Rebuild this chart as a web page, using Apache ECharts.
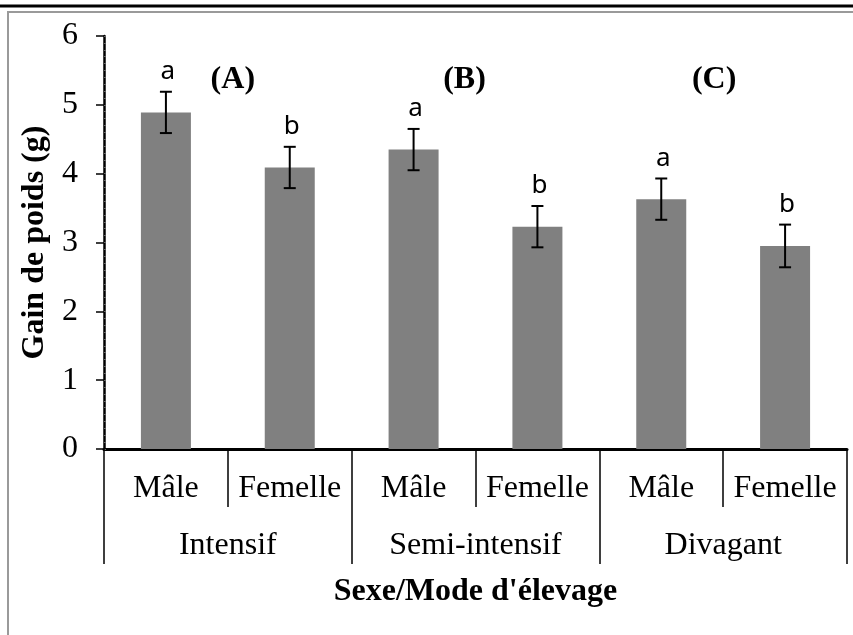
<!DOCTYPE html>
<html>
<head>
<meta charset="utf-8">
<script src="https://cdn.jsdelivr.net/npm/echarts@6/dist/echarts.min.js"></script>
<style>
  html, body { margin: 0; padding: 0; background: #fff; }
  #main { width: 853px; height: 635px; }
</style>
</head>
<body>
<div id="main"></div>
<script>
// données
const sexes = ['Mâle', 'Femelle', 'Mâle', 'Femelle', 'Mâle', 'Femelle']
const modes = ['Intensif', 'Semi-intensif', 'Divagant']
const gain = [4.89, 4.09, 4.35, 3.23, 3.63, 2.95]
const erreur = [0.30, 0.30, 0.30, 0.30, 0.30, 0.31]
const lettres = ['a', 'b', 'a', 'b', 'a', 'b']
const panneaux = ['(A)', '(B)', '(C)']
const yTicks = [0, 1, 2, 3, 4, 5, 6]

const serif = '"Liberation Serif", "Times New Roman", serif'
const chart = echarts.init(document.getElementById('main'))

const errData = gain.map((v, i) => [i, v - erreur[i], v + erreur[i], lettres[i]])

const option = {
  animation: false,
  backgroundColor: '#fff',
  grid: { left: 104, right: 6, top: 36, bottom: 186, containLabel: false },
  xAxis: [
    {
      type: 'category',
      data: sexes,
      position: 'bottom',
      axisLine: { show: true, lineStyle: { color: '#000', width: 3 } },
      axisTick: { show: true, interval: 0, length: 58, lineStyle: { color: '#000', width: 1.5 } },
      axisLabel: { interval: 0, margin: 24, color: '#000', fontFamily: serif, fontSize: 32 }
    },
    {
      type: 'category',
      data: modes,
      position: 'bottom',
      axisLine: { show: false },
      axisTick: { show: true, interval: 0, length: 115, lineStyle: { color: '#000', width: 1.5 } },
      axisLabel: { interval: 0, margin: 81, color: '#000', fontFamily: serif, fontSize: 32 },
      name: "Sexe/Mode d'élevage",
      nameLocation: 'middle',
      nameGap: 127,
      nameTextStyle: { color: '#000', fontFamily: serif, fontSize: 32, fontWeight: 'bold' }
    }
  ],
  yAxis: [
    {
      type: 'value',
      min: 0,
      max: 6,
      interval: 1,
      axisLine: { show: true, lineStyle: { color: '#000', width: 2.5 } },
      axisTick: { show: true, length: 8, lineStyle: { color: '#000', width: 1.5 } },
      axisLabel: {
        margin: 26, color: '#000', fontFamily: serif, fontSize: 32,
        formatter: v => yTicks.indexOf(v) >= 0 ? String(v) : ''
      },
      splitLine: { show: false },
      name: 'Gain de poids (g)',
      nameLocation: 'middle',
      nameGap: 50,
      nameTextStyle: { color: '#000', fontFamily: serif, fontSize: 32, fontWeight: 'bold' }
    },
    {
      type: 'value',
      min: 0,
      max: 6,
      interval: 0.1,
      position: 'left',
      axisLine: { show: false },
      axisTick: { show: true, inside: true, length: 2, lineStyle: { color: '#666', width: 1 } },
      axisLabel: { show: false },
      splitLine: { show: false }
    }
  ],
  series: [
    {
      type: 'bar',
      data: gain,
      barWidth: 50,
      itemStyle: { color: '#808080' }
    },
    {
      type: 'custom',
      data: errData,
      z: 10,
      renderItem: function(params, api) {
        const x = api.value(0)
        const lo = api.coord([x, api.value(1)])
        const hi = api.coord([x, api.value(2)])
        const cap = 6
        const st = { stroke: '#000', lineWidth: 2 }
        return {
          type: 'group',
          children: [
            { type: 'line', shape: { x1: lo[0], y1: lo[1], x2: hi[0], y2: hi[1] }, style: st },
            { type: 'line', shape: { x1: hi[0] - cap, y1: hi[1], x2: hi[0] + cap, y2: hi[1] }, style: st },
            { type: 'line', shape: { x1: lo[0] - cap, y1: lo[1], x2: lo[0] + cap, y2: lo[1] }, style: st },
            {
              type: 'text',
              style: {
                x: hi[0] + 2, y: hi[1] - 7,
                text: api.value(3),
                fill: '#000',
                font: '26px "Noto Sans", sans-serif',
                align: 'center',
                verticalAlign: 'bottom'
              }
            }
          ]
        }
      }
    }
  ],
  graphic: [
    { type: 'line', shape: { x1: 0, y1: 6, x2: 853, y2: 6 }, style: { stroke: '#000', lineWidth: 3 } },
    { type: 'rect', shape: { x: 8, y: 12, width: 900, height: 640 }, style: { fill: 'none', stroke: '#9a9a9a', lineWidth: 2 } }
  ]
}

chart.setOption(option)

// étiquettes (A) (B) (C) au-dessus de chaque mode d'élevage
const panelShift = [5, -11, -9]
chart.setOption({
  graphic: option.graphic.concat(panneaux.map((t, i) => {
    const px = chart.convertToPixel({ xAxisIndex: 1 }, modes[i])
    return {
      type: 'text',
      x: px + panelShift[i],
      y: 80,
      style: {
        text: t, fill: '#000', align: 'center', verticalAlign: 'middle',
        font: 'bold 32px "Liberation Serif", serif'
      }
    }
  }))
})
</script>
</body>
</html>
